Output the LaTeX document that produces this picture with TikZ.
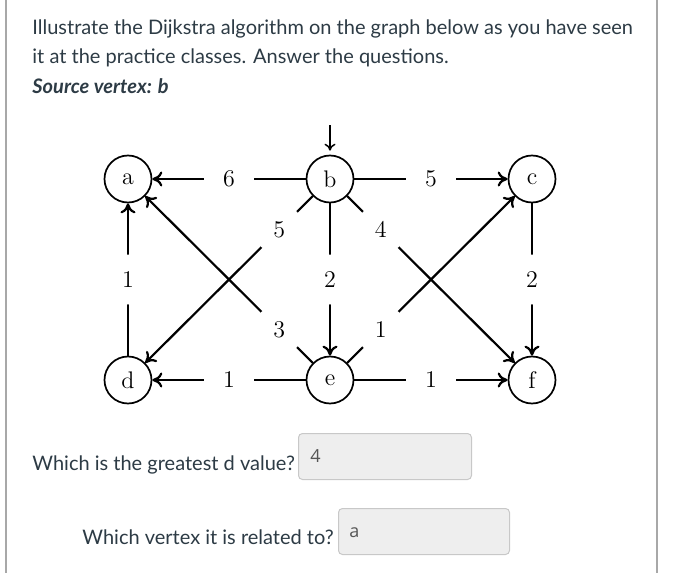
\documentclass[tikz,border=0pt]{standalone}
\usepackage{fontspec}
\newfontfamily\latofont{Lato}
\newfontfamily\fieldfont{Open Sans}
\usetikzlibrary{arrows.meta, positioning}
\definecolor{canvastext}{HTML}{2D3B45}
\definecolor{fieldfill}{HTML}{EEEEEE}
\definecolor{fieldline}{HTML}{C8C8C8}
\definecolor{panelline}{HTML}{A8A8A8}
\definecolor{fieldtext}{HTML}{555555}
\tikzset{
  vertex/.style={circle, draw, line width=0.85pt, minimum size=23.5pt, inner sep=0pt, font=\fontsize{12}{14}\selectfont},
  weight/.style={circle, fill=white, minimum size=25pt, inner sep=0pt, font=\fontsize{12}{14}\selectfont},
  edgearrow/.style={-{To[length=5pt, width=7.5pt]}, line width=1.1pt},
  initarrow/.style={-{To[length=3.5pt, width=5.5pt]}, line width=0.75pt},
  prompt/.style={anchor=base west, inner sep=0pt, text=canvastext, font=\latofont\fontsize{10}{14.5}\selectfont},
  field/.style={draw=fieldline, fill=fieldfill, rounded corners=2pt, line width=0.5pt, anchor=north west, inner sep=0pt},
  fieldvalue/.style={anchor=base west, inner sep=0pt, text=fieldtext, font=\fieldfont\fontsize{9}{11}\selectfont}
}
\begin{document}
\begin{tikzpicture}[x=0.5pt, y=-0.5pt]
    % Page
    \fill[white] (0,0) rectangle (681,573);
    \useasboundingbox (0,0) rectangle (681,573);
    \draw[panelline, line width=0.6pt] (6,0) -- (6,573);
    \draw[panelline, line width=0.6pt] (657,0) -- (657,573);

    % Question text
    \node[prompt] (intro1) at (32,34) {Illustrate the Dijkstra algorithm on the graph below as you have seen};
    \node[prompt] (intro2) at (32,63) {it at the practice classes. Answer the questions.};
    \node[prompt, font=\latofont\bfseries\itshape\fontsize{10}{14.5}\selectfont] (source) at (32,93) {Source vertex: b};

    % Vertices
    \node[vertex] (a) at (128,179) {a};
    \node[vertex] (b) at (330,179) {b};
    \node[vertex] (c) at (532,179) {c};
    \node[vertex] (d) at (128,380) {d};
    \node[vertex] (e) at (330,380) {e};
    \node[vertex] (f) at (532,380) {f};

    % Source marker
    \coordinate (start) at (330,125);
    \draw[initarrow] (start) -- ([yshift=2pt]b.north);

    % Weighted edges
    \draw[edgearrow] (b) -- node[weight] {6} (a);
    \draw[edgearrow] (b) -- node[weight] {5} (c);
    \draw[edgearrow] (b) -- node[weight] {2} (e);
    \draw[edgearrow] (b) -- node[weight, pos=0.2] {5} (d);
    \draw[edgearrow] (b) -- node[weight, pos=0.2] {4} (f);
    \draw[edgearrow] (d) -- node[weight] {1} (a);
    \draw[edgearrow] (c) -- node[weight] {2} (f);
    \draw[edgearrow] (e) -- node[weight] {1} (d);
    \draw[edgearrow] (e) -- node[weight] {1} (f);
    \draw[edgearrow] (e) -- node[weight, pos=0.2] {3} (a);
    \draw[edgearrow] (e) -- node[weight, pos=0.2] {1} (c);

    % Answers
    \node[prompt] (question1) at (32,470) {Which is the greatest d value?};
    \node[field, minimum width=86.5pt, minimum height=23pt] (answer1) at (298,433) {};
    \node[fieldvalue] (value1) at (310,462) {4};
    \node[prompt] (question2) at (82,544) {Which vertex it is related to?};
    \node[field, minimum width=85.5pt, minimum height=23pt] (answer2) at (338,508) {};
    \node[fieldvalue] (value2) at (349,537) {a};
\end{tikzpicture}
\end{document}
